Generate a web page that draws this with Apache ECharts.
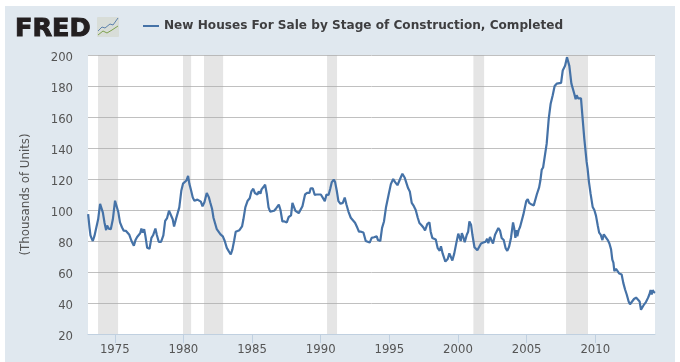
<!DOCTYPE html>
<html><head><meta charset="utf-8">
<style>html,body{margin:0;padding:0;background:#fff}#c{width:680px;height:362px}</style>
<script src="https://cdn.jsdelivr.net/npm/echarts@6/dist/echarts.min.js"></script>
</head><body><div id="c"></div>
<script>
const seriesName = 'New Houses For Sale by Stage of Construction, Completed';
const yAxisName = '(Thousands of Units)';
const xTickYears = [1975,1980,1985,1990,1995,2000,2005,2010];
const recessions = [[1973.78,1975.24],[1979.97,1980.56],[1981.5,1982.89],[1990.46,1991.19],[2001.12,2001.9],[2007.87,2009.47]];
const years = [
1973.06,1973.16,1973.23,1973.30,1973.40,1973.52,1973.64,1973.79,1973.93,1974.03,1974.13,1974.25,1974.37,1974.44,1974.56,1974.71,1974.86,1975.02,1975.14,1975.26,1975.38,1975.53,1975.65,1975.82,1975.96,1976.06,
1976.22,1976.39,1976.51,1976.63,1976.75,1976.85,1976.94,1977.04,1977.14,1977.23,1977.36,1977.53,1977.67,1977.79,1977.96,1978.06,1978.20,1978.37,1978.54,1978.67,1978.81,1978.95,1979.07,1979.22,1979.32,1979.47,1979.57,1979.70,1979.85,
1979.97,1980.09,1980.22,1980.34,1980.43,1980.56,1980.68,1980.80,1980.92,1981.02,1981.15,1981.27,1981.39,1981.53,1981.70,1981.85,1981.95,1982.09,1982.19,1982.31,1982.43,1982.55,1982.70,1982.87,1983.01,1983.16,1983.30,1983.45,1983.57,1983.69,1983.81,1983.93,1984.08,1984.20,1984.27,1984.37,1984.51,1984.68,1984.83,1984.95,
1985.09,1985.20,1985.30,1985.39,1985.49,1985.61,1985.69,1985.83,1985.95,1986.07,1986.20,1986.32,1986.46,1986.61,1986.75,
1986.95,1987.07,1987.21,1987.36,1987.53,1987.67,1987.84,1987.94,1988.04,1988.16,1988.28,1988.40,1988.52,1988.67,1988.86,1989.01,1989.18,1989.27,1989.42,1989.56,1989.71,1989.85,1990.01,1990.15,1990.30,1990.42,1990.57,1990.69,1990.81,1990.95,1991.05,1991.17,1991.29,1991.44,1991.61,1991.75,1991.87,1992.02,1992.19,1992.33,1992.50,1992.67,1992.79,1992.94,1993.11,1993.28,1993.42,1993.57,
1993.71,1993.88,1994.08,1994.17,1994.34,1994.47,1994.61,1994.76,1994.95,1995.11,1995.28,1995.42,1995.59,1995.71,1995.83,1995.95,1996.11,1996.24,1996.37,1996.49,1996.63,1996.75,1996.92,1997.07,1997.19,1997.36,1997.48,1997.60,1997.77,1997.92,1998.01,1998.13,1998.25,1998.38,1998.52,1998.67,1998.76,1998.88,1999.08,1999.25,1999.37,1999.49,1999.59,1999.73,1999.88,2000.02,2000.13,2000.20,2000.28,2000.37,2000.49,
2000.64,2000.74,2000.83,2000.95,2001.05,2001.20,2001.32,2001.41,2001.54,2001.68,2001.85,2002.02,2002.12,2002.21,2002.33,2002.46,2002.55,2002.70,2002.82,2002.94,2003.06,2003.18,2003.33,2003.47,2003.59,2003.72,2003.86,2004.01,2004.10,2004.18,2004.25,2004.32,2004.42,2004.52,2004.64,2004.76,2004.88,2004.97,2005.08,2005.18,2005.28,2005.37,2005.52,2005.61,2005.74,2005.91,2006.00,
2006.10,2006.20,2006.32,2006.46,2006.61,2006.75,2006.90,2007.04,2007.19,2007.33,2007.51,2007.63,2007.80,2007.94,2008.04,2008.11,2008.26,2008.38,2008.47,2008.57,2008.64,2008.76,2008.86,2008.96,2009.05,2009.20,2009.37,
2009.44,2009.54,2009.66,2009.81,2009.93,2010.05,2010.18,2010.28,2010.40,2010.52,2010.62,2010.76,2010.91,2011.03,2011.15,2011.24,2011.32,2011.39,2011.51,2011.63,2011.75,2011.92,2012.04,2012.17,2012.29,2012.43,2012.53,2012.67,2012.82,2012.97,2013.11,2013.23,2013.33,2013.43,2013.55,2013.69,2013.84,2013.94,2014.03,2014.11,2014.18,2014.27,2014.35
];
const values = [
97.4,88.7,83.7,82,80,83.3,88,94,104,104,98.5,92,87,90,88,87.6,94,106,106,98.5,92,88.7,86.7,86.5,87.6,84,
80,77,80.6,82.6,83.7,85,88,85.4,87.6,83.3,75.6,75,82,83.7,88,84,79.5,79.5,83.7,93,94.8,99.5,99,94,89.4,94.5,93.7,101.7,112.6,
117,116.3,119,122,117,112.6,108,106,107,106.7,107.6,105.4,102.4,105,111,108.3,105,100.6,95,94,87.6,88,84.3,83,80,75.6,73.5,71.3,74.6,80,86,85.4,87,86.5,89.4,94,101.7,106,107.6,112,
113.7,111,112,110,112,110.5,113.3,114.8,116.3,110.5,101.7,99,98.5,99.5,101,
103.5,100,92.6,92.6,92,95.5,96.5,104.6,104.6,99.5,99,98,99,102.4,110,111,111,114,114,109.8,110,109.5,110,110,105.7,110,109.7,113.5,118,119.6,118,112.4,105.7,104,104.6,108,103.7,99,95,95.3,91.8,88.5,86,86,85.5,80,79,79,
82,82.4,83,80.6,80,88.5,92.6,102,110,116.7,120,118,116,116.7,121,123.4,121,120,114,112,104.6,103,100,95,91.6,90,88.7,86.8,91,92,86,82,81,81,75.4,73.7,76.6,72,66.7,68.4,72,72,67.4,72,78.8,84.7,85.7,80,85,83,79.3,
84,86,92.6,90.5,84,76,75.6,74,73,78.4,79,79.6,81.5,78.6,82.6,83,78.4,84,85,88.4,86.7,82,80.6,75.3,73.6,76.3,82,92,88,82,87,83,87,89,90,97,98,105.7,107,104.6,105.7,103.5,103,103,110,114.6,119,
126,127.4,128,142.8,159,168.6,174,180,181.5,182,182,190,193,198.5,199.6,193,181.5,180.4,175,171.4,174,172,173,172,162,146,131,
126.7,118,110.4,102,100,96.4,90,85.4,84,80.6,84.3,84.3,80.6,78.4,74.6,68,66,60.5,62,61.6,59,58.4,53,48.7,45.5,41,39.2,39.4,42.6,43.5,43.5,41,35.6,35,39,40.6,43.3,45.5,48.3,45.5,48.3,47,46.5
];
const points = years.map((y,i)=>[y,values[i]]);
const chart = echarts.init(document.getElementById('c'),null,{renderer:'canvas'});
const FONT = '"DejaVu Sans", Verdana, sans-serif';
chart.setOption({
  animation:false,
  backgroundColor:'#fff',
  graphic:[
    {type:'rect',z:-10,shape:{x:5,y:6,width:670,height:356},style:{fill:'#E0E8EF'}},
    {type:'text',z:5,x:15,y:16,style:{text:'FRED',font:'bold 25.5px "DejaVu Sans", sans-serif',fill:'#231F20',stroke:'#231F20',lineWidth:1}},
    {type:'rect',z:5,shape:{x:97,y:17,width:22,height:20,r:1},style:{fill:'#D8DDD8'}},
    {type:'polyline',z:6,shape:{points:[[98,31],[102,27],[105,28],[110,24],[113,25],[118,18]]},style:{stroke:'#5D82AD',lineWidth:1,fill:null}},
    {type:'polyline',z:6,shape:{points:[[98,35],[103,31],[107,33],[112,30],[118,26]]},style:{stroke:'#7FA24E',lineWidth:1,fill:null}}
  ],
  grid:{left:88,top:55,width:567,height:279,show:true,backgroundColor:'#fff',borderWidth:0},
  legend:{show:true,left:138,top:15,itemWidth:16,itemHeight:2,itemGap:5,icon:'rect',
    data:[{name:seriesName}],selectedMode:false,
    textStyle:{fontFamily:FONT,fontWeight:'bold',fontSize:12.1,color:'#3E3E40'}},
  xAxis:{type:'value',min:1973.05,max:2014.35,
    axisLine:{show:true,lineStyle:{color:'#C0D0E0',width:1}},
    splitLine:{show:false},
    axisTick:{show:true,length:9,customValues:xTickYears,lineStyle:{color:'#C0D0E0'}},
    axisLabel:{customValues:xTickYears,margin:10,fontFamily:FONT,fontSize:11.7,color:'#555',formatter:v=>String(v)}},
  yAxis:{type:'value',min:20,max:200,interval:20,
    name:yAxisName,nameLocation:'middle',nameGap:56,
    nameTextStyle:{fontFamily:FONT,fontSize:11.8,color:'#555'},
    axisLine:{show:false},axisTick:{show:false},
    splitLine:{show:true,lineStyle:{color:'#C0C0C0',width:1}},
    axisLabel:{margin:15,color:'#555',formatter:v=>'{a|'+v+'}',
      rich:{a:{fontFamily:FONT,fontSize:11.7,color:'#555',padding:[5,0,0,0]}}}},
  series:[{name:seriesName,type:'line',data:points,showSymbol:false,symbol:'none',
    lineStyle:{color:'#4572A7',width:2.2},itemStyle:{color:'#4572A7'},
    markArea:{silent:true,itemStyle:{color:'rgba(170,170,170,0.3)'},
      data:recessions.map(r=>[{xAxis:r[0]},{xAxis:r[1]}])}}]
});
</script></body></html>
